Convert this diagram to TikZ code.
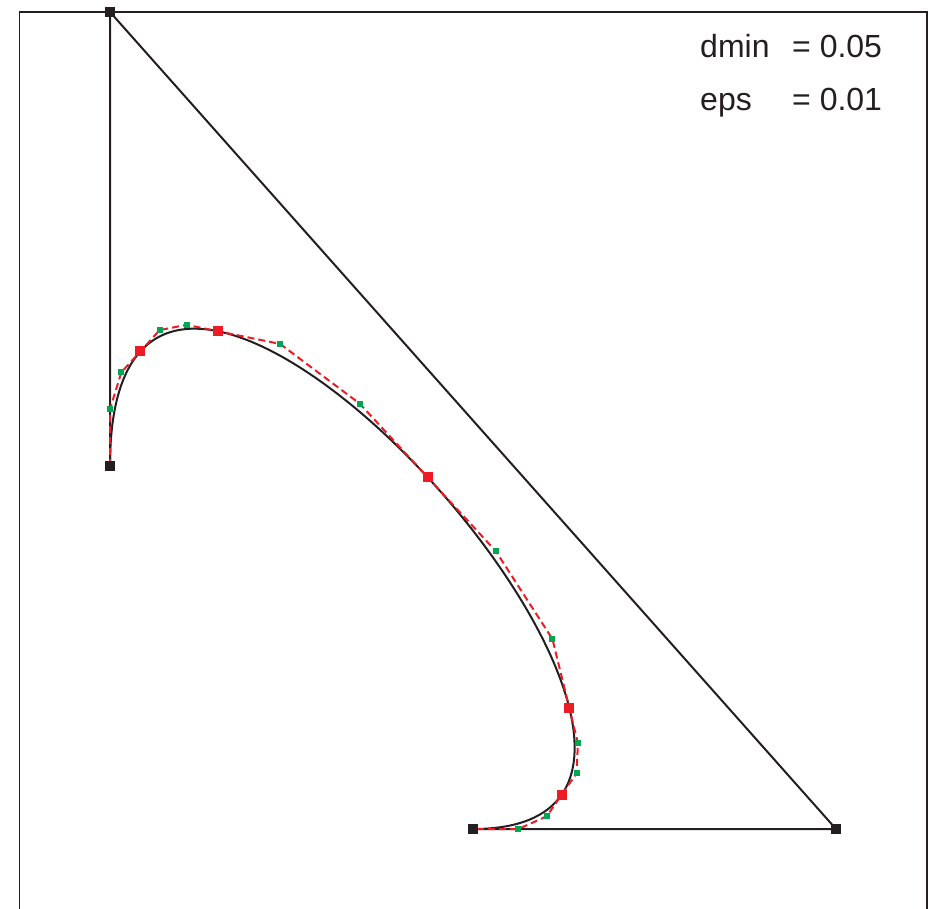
\documentclass[tikz,border=0pt]{standalone}
\usepackage{fontspec}
\setmainfont{Liberation Sans}
\usetikzlibrary{calc}
\definecolor{ink}{RGB}{35,31,32}
\definecolor{bred}{RGB}{237,28,36}
\definecolor{bgreen}{RGB}{0,166,81}
% blossom of the cubic (P0,P1,P2,P3) at (u,v,w)
\newcommand{\bzblossom}[4]{%
  \coordinate (q0) at ($(P0)!#2!(P1)$);
  \coordinate (q1) at ($(P1)!#2!(P2)$);
  \coordinate (q2) at ($(P2)!#2!(P3)$);
  \coordinate (r0) at ($(q0)!#3!(q1)$);
  \coordinate (r1) at ($(q1)!#3!(q2)$);
  \coordinate (#1) at ($(r0)!#4!(r1)$);
}
\tikzset{
  frameline/.style={draw=ink, line width=1.6pt},
  blackline/.style={draw=ink, line width=2pt},
  redpoly/.style={draw=bred, line width=2pt, dash pattern=on 7pt off 4pt},
  ctrlsq/.style={fill=ink, draw=none, minimum size=10pt, inner sep=0pt},
  redsq/.style={fill=bred, draw=none, minimum size=10pt, inner sep=0pt},
  greensq/.style={fill=bgreen, draw=none, minimum size=6pt, inner sep=0pt},
  lab/.style={font=\fontsize{32}{32}\selectfont, text=ink, inner sep=0pt, anchor=base west}
}
\begin{document}
\begin{tikzpicture}[x=1pt,y=-1pt]
\useasboundingbox (0,0) rectangle (939,909);
% frame
\coordinate (F1) at (19.5,915);
\coordinate (F2) at (19.5,12);
\coordinate (F3) at (927,12);
\coordinate (F4) at (927,915);
\draw[frameline] (F1) -- (F2) -- (F3) -- (F4);
% control points
\coordinate (P0) at (110,466);
\coordinate (P1) at (110,12);
\coordinate (P2) at (836,829);
\coordinate (P3) at (473,829);
% subdivision points (blossoms)
\bzblossom{g1}{0}{0}{0.125}
\bzblossom{g2}{0}{0.125}{0.125}
\bzblossom{R1}{0.125}{0.125}{0.125}
\bzblossom{g3}{0.125}{0.125}{0.25}
\bzblossom{g4}{0.125}{0.25}{0.25}
\bzblossom{R2}{0.25}{0.25}{0.25}
\bzblossom{g5}{0.25}{0.25}{0.5}
\bzblossom{g6}{0.25}{0.5}{0.5}
\bzblossom{R3}{0.5}{0.5}{0.5}
\bzblossom{g7}{0.5}{0.5}{0.75}
\bzblossom{g8}{0.5}{0.75}{0.75}
\bzblossom{R4}{0.75}{0.75}{0.75}
\bzblossom{g9}{0.75}{0.75}{0.875}
\bzblossom{g10}{0.75}{0.875}{0.875}
\bzblossom{R5}{0.875}{0.875}{0.875}
\bzblossom{g11}{0.875}{0.875}{1}
\bzblossom{g12}{0.875}{1}{1}
% control polygon and curve
\draw[blackline] (P0) -- (P1) -- (P2) -- (P3);
\draw[blackline] (P0) .. controls (P1) and (P2) .. (P3);
% subdivided control polygons
\draw[redpoly] (P0) -- (g1) -- (g2) -- (R1) -- (g3) -- (g4) -- (R2) -- (g5) -- (g6) -- (R3)
  -- (g7) -- (g8) -- (R4) -- (g9) -- (g10) -- (R5) -- (g11) -- (g12) -- (P3);
% markers
\foreach \g in {g1,g2,g3,g4,g5,g6,g7,g8,g9,g10,g11,g12}{
  \node[greensq] (m\g) at (\g) {};
}
\foreach \r in {R1,R2,R3,R4,R5}{
  \node[redsq] (m\r) at (\r) {};
}
\foreach \p in {P0,P1,P2,P3}{
  \node[ctrlsq] (m\p) at (\p) {};
}
% labels
\node[lab] (t1) at (700,58) {dmin};
\node[lab] (v1) at (792,58) {= 0.05};
\node[lab] (t2) at (700,111) {eps};
\node[lab] (v2) at (792,111) {= 0.01};
\end{tikzpicture}
\end{document}
